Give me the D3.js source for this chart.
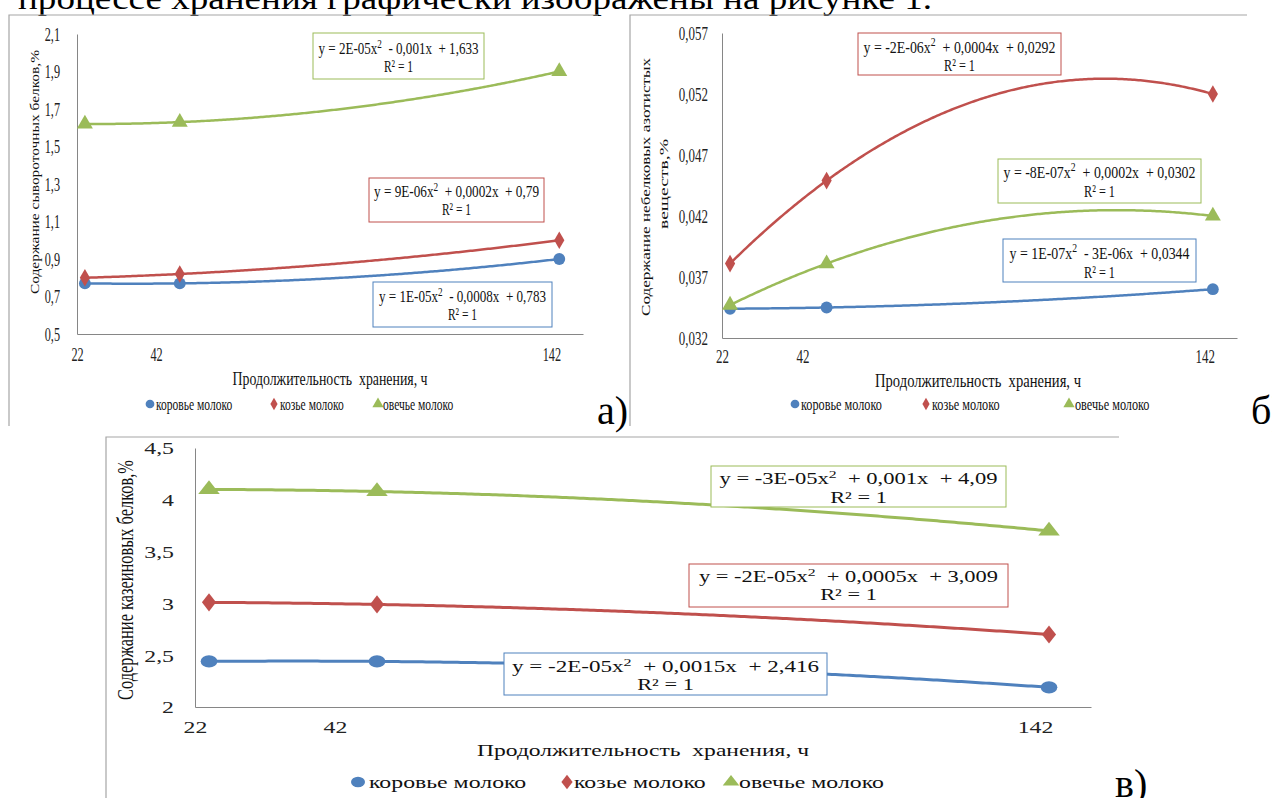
<!DOCTYPE html>
<html>
<head>
<meta charset="utf-8">
<script src="https://cdn.jsdelivr.net/npm/d3@7"></script>
<style>
body { margin: 0; background: #fff; }
svg text { font-family: "Liberation Serif", "Times New Roman", "DejaVu Serif", serif; white-space: pre; }
</style>
</head>
<body>
<svg id="fig" width="1272" height="798"></svg>
<script>
// ---- data ----
var hours = [24, 48, 144]
var milkNames = ["коровье молоко", "козье молоко", "овечье молоко"]
var xTickValues = [22, 42, 142]
var xTitle = "Продолжительность  хранения, ч"
var r2Label = "R² = 1"

// а) whey proteins, %
var wheyCow = [0.77, 0.77, 0.90]
var wheyGoat = [0.80, 0.82, 1.00]
var wheySheep = [1.62, 1.63, 1.90]
var wheyTicks = [0.5, 0.7, 0.9, 1.1, 1.3, 1.5, 1.7, 1.9, 2.1]
var wheyEquations = ["y = 1E-05x²  - 0,0008x  + 0,783", "y = 9E-06x²  + 0,0002x  + 0,79", "y = 2E-05x²  - 0,001x  + 1,633"]

// б) non-protein nitrogen, %
var npnCow = [0.0344, 0.0345, 0.036]
var npnGoat = [0.0381, 0.0449, 0.052]
var npnSheep = [0.0347, 0.0381, 0.042]
var npnTicks = [0.032, 0.037, 0.042, 0.047, 0.052, 0.057]
var npnEquations = ["y = 1E-07x²  - 3E-06x  + 0,0344", "y = -2E-06x²  + 0,0004x  + 0,0292", "y = -8E-07x²  + 0,0002x  + 0,0302"]

// в) casein, %
var caseinCow = [2.44, 2.44, 2.19]
var caseinGoat = [3.01, 2.99, 2.70]
var caseinSheep = [4.10, 4.08, 3.70]
var caseinTicks = [2, 2.5, 3, 3.5, 4, 4.5]
var caseinEquations = ["y = -2E-05x²  + 0,0015x  + 2,416", "y = -2E-05x²  + 0,0005x  + 3,009", "y = -3E-05x²  + 0,001x  + 4,09"]

var colors = ["#4F81BD", "#C0504D", "#9BBB59"]
var symbols = [d3.symbolCircle, d3.symbolDiamond, d3.symbolTriangle]

var svg = d3.select("#fig")

// text with horizontal squeeze / stretch like the scanned picture
function label(g, x, y, s, o) {
    var sx = o.sx || 1
    var t = g.append("text")
        .attr("transform", "translate(" + x + "," + y + ") scale(" + sx + ",1)" + (o.rot ? " rotate(-90)" : ""))
        .attr("text-anchor", o.anchor || "middle")
        .attr("dy", o.dy !== undefined ? o.dy : ".35em")
        .attr("font-size", o.size + "px")
        .style("fill", o.color || "#111")
        .text(s)
    if (o.w) t.attr("textLength", o.rot ? o.w : o.w / sx).attr("lengthAdjust", "spacingAndGlyphs")
    return t
}

// equation with a raised "2"
function equation(g, x, y, s, o) {
    var parts = s.split("²")
    var sx = o.sx || 1
    var t = g.append("text")
        .attr("transform", "translate(" + x + "," + y + ") scale(" + sx + ",1)")
        .attr("text-anchor", "middle")
        .attr("dy", ".35em")
        .attr("font-size", o.size + "px")
        .style("fill", "#111")
    t.append("tspan").text(parts[0])
    t.append("tspan").attr("dy", -o.size * 0.38).attr("font-size", (o.size * 0.7) + "px").text("2")
    t.append("tspan").attr("dy", o.size * 0.38).text(parts[1])
    if (o.w) t.attr("textLength", o.w / sx).attr("lengthAdjust", "spacingAndGlyphs")
}

// least squares 2nd order polynomial (Excel trendline)
function polyFit2(xs, ys) {
    var n = xs.length, s = [0, 0, 0, 0, 0], t = [0, 0, 0]
    for (var i = 0; i < n; i++) {
        for (var k = 0; k < 5; k++) s[k] += Math.pow(xs[i], k)
        for (var k = 0; k < 3; k++) t[k] += ys[i] * Math.pow(xs[i], k)
    }
    var M = [[s[0], s[1], s[2]], [s[1], s[2], s[3]], [s[2], s[3], s[4]]]
    function det(m) {
        return m[0][0] * (m[1][1] * m[2][2] - m[1][2] * m[2][1]) - m[0][1] * (m[1][0] * m[2][2] - m[1][2] * m[2][0]) + m[0][2] * (m[1][0] * m[2][1] - m[1][1] * m[2][0])
    }
    var D = det(M), c = []
    for (var j = 0; j < 3; j++) {
        var Mj = M.map(function(r, ri) { var rr = r.slice(); rr[j] = t[ri]; return rr })
        c.push(det(Mj) / D)
    }
    return function(x) { return c[0] + c[1] * x + c[2] * x * x }
}

function drawChart(cfg) {
    var g = svg.append("g")
    var x = d3.scaleLinear().domain([22, 150]).range([cfg.plot[0], cfg.plot[1]])
    var y = d3.scaleLinear().domain(cfg.yDomain).range([cfg.plot[3], cfg.plot[2]])

    // frame pieces
    g.append("path").attr("d", cfg.frame).attr("fill", "none").attr("stroke", "#a6a6a6").attr("stroke-width", 1.2)

    // y axis
    var ya = g.append("g").attr("transform", "translate(" + cfg.plot[0] + ",0)")
        .call(d3.axisLeft(y).tickValues(cfg.yTicks).tickSize(0).tickFormat(cfg.fmt))
    ya.attr("font-family", null).attr("font-size", null)
    ya.select(".domain").attr("stroke", "#868686")
    ya.selectAll("text")
        .attr("font-size", cfg.fs + "px").attr("dy", ".35em").style("fill", "#222")
        .attr("x", -cfg.yPad / cfg.sx).attr("transform", "scale(" + cfg.sx + ",1)")

    // x axis
    var xa = g.append("g").attr("transform", "translate(0," + cfg.plot[3] + ")")
        .call(d3.axisBottom(x).tickValues(xTickValues).tickSize(0))
    xa.attr("font-family", null).attr("font-size", null)
    xa.select(".domain").attr("stroke", "#868686")
    xa.selectAll("text")
        .attr("font-size", cfg.fs + "px").attr("y", cfg.xPad).attr("dy", ".35em").style("fill", "#222")
        .attr("transform", "scale(" + cfg.sx + ",1)")

    // trendlines + markers
    var line = d3.line().x(function(d) { return x(d[0]) }).y(function(d) { return y(d[1]) })
    cfg.series.forEach(function(vals, i) {
        var f = polyFit2(hours, vals)
        var pts = d3.range(hours[0], hours[hours.length - 1] + 0.01, 0.5).map(function(h) { return [h, f(h)] })
        g.append("path").attr("d", line(pts)).attr("fill", "none")
            .attr("stroke", colors[i]).attr("stroke-width", cfg.lw).attr("stroke-linejoin", "round")
    })
    cfg.series.forEach(function(vals, i) {
        g.selectAll(null).data(hours).enter().append("path")
            .attr("d", d3.symbol().type(symbols[i]).size(cfg.msize[i]))
            .attr("transform", function(h, j) { return "translate(" + x(h) + "," + y(vals[j]) + ") scale(" + cfg.msx + ",1)" })
            .attr("fill", colors[i])
    })

    // trendline labels
    cfg.boxes.forEach(function(b, i) {
        g.append("rect").attr("x", b[0]).attr("y", b[2]).attr("width", b[1] - b[0]).attr("height", b[3] - b[2])
            .attr("fill", "#fff").attr("stroke", colors[i]).attr("stroke-width", 1)
        var cx = (b[0] + b[1]) / 2
        equation(g, cx, b[4], cfg.equations[i], { size: cfg.eqFs, sx: cfg.sx, w: b[6] })
        label(g, cx, b[5], r2Label, { size: cfg.eqFs, sx: cfg.sx })
    })

    // axis titles
    label(g, cfg.xTitle[0], cfg.xTitle[1], xTitle, { size: cfg.fs, sx: cfg.sx, w: cfg.xTitle[2] })
    cfg.yTitle.forEach(function(t) {
        label(g, t[1], t[2], t[0], { size: cfg.fs, sx: cfg.sx, w: t[3], rot: true })
    })

    // legend
    cfg.legend.forEach(function(p, i) {
        g.append("path").attr("d", d3.symbol().type(symbols[i]).size(cfg.lsize[i]))
            .attr("transform", "translate(" + p[0] + "," + cfg.legendY + ") scale(" + cfg.msx + ",1)")
            .attr("fill", colors[i])
        label(g, p[1], cfg.legendY, milkNames[i], { size: cfg.lfs, sx: cfg.sx, anchor: "start" })
    })

    label(g, cfg.tag[1], cfg.tag[2], cfg.tag[0], { size: 40, anchor: "start", dy: 0, color: "#000" })
}

var fmt1 = function(d) { return d3.format(".1f")(d).replace(".", ",") }
var fmt3 = function(d) { return d3.format(".3f")(d).replace(".", ",") }
var fmtC = function(d) { return String(d).replace(".", ",") }

// top line of the page text (cut by the screenshot)
label(svg, 18, 9, "процессе хранения графически изображены на рисунке 1.", { size: 32, anchor: "start", dy: 0, w: 914, color: "#000" })

drawChart({
    plot: [77, 583, 34, 334], yDomain: [0.5, 2.1], yTicks: wheyTicks, fmt: fmt1,
    series: [wheyCow, wheyGoat, wheySheep], equations: wheyEquations,
    frame: "M9,426V15H598", fs: 18, sx: 0.68, yPad: 17, xPad: 21,
    lw: 2.5, msize: [110, 90, 110], lsize: [60, 45, 55], msx: 1,
    boxes: [[373, 552, 282, 327, 296, 314, 167], [369, 544, 178, 222, 191, 209, 165], [313, 484, 33, 79, 48, 66, 160]],
    eqFs: 17, xTitle: [330, 379, 195], yTitle: [["Содержание сывороточных белков,%", 35, 172, 244]],
    legend: [[150, 156], [274, 280], [378, 383]], legendY: 404, lfs: 17,
    tag: ["а)", 597, 424]
})

drawChart({
    plot: [722, 1237, 33, 338], yDomain: [0.032, 0.057], yTicks: npnTicks, fmt: fmt3,
    series: [npnCow, npnGoat, npnSheep], equations: npnEquations,
    frame: "M630,426V15H1247", fs: 18, sx: 0.72, yPad: 14, xPad: 19,
    lw: 2.5, msize: [110, 90, 110], lsize: [60, 45, 55], msx: 1,
    boxes: [[1003, 1196, 239, 282, 253, 272, 180], [858, 1061, 33, 75, 47, 65, 192], [998, 1201, 159, 203, 172, 191, 192]],
    eqFs: 17, xTitle: [978, 381, 206],
    yTitle: [["Содержание небелковых азотистых", 645, 187, 258], ["веществ,%", 663, 184, 90]],
    legend: [[795, 801], [926, 932], [1069, 1075]], legendY: 404, lfs: 17,
    tag: ["б)", 1251, 424]
})

drawChart({
    plot: [195, 1091, 448, 707], yDomain: [2, 4.5], yTicks: caseinTicks, fmt: fmtC,
    series: [caseinCow, caseinGoat, caseinSheep], equations: caseinEquations,
    frame: "M106,798V437H1119", fs: 17, sx: 1.4, yPad: 21, xPad: 20,
    lw: 3, msize: [120, 95, 110], lsize: [85, 60, 65], msx: 1.35,
    boxes: [[504, 827, 653, 695, 666, 684, 307], [689, 1008, 564, 607, 576, 594, 299], [711, 1006, 466, 507, 478, 497, 278]],
    eqFs: 16, xTitle: [643, 750, 332], yTitle: [["Содержание казеиновых белков,%", 125, 580, 240]],
    legend: [[358, 369], [567, 574], [731, 739]], legendY: 782, lfs: 17,
    tag: ["в)", 1115, 797]
})
</script>
</body>
</html>
